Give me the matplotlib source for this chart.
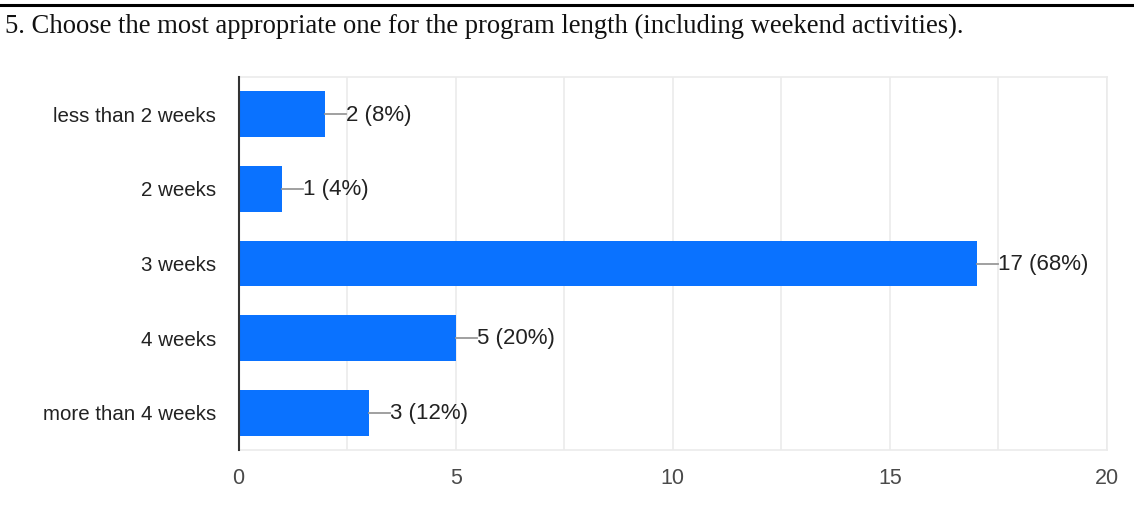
import matplotlib
matplotlib.use("Agg")
import matplotlib.pyplot as plt
from matplotlib.lines import Line2D

title = "5. Choose the most appropriate one for the program length (including weekend activities)."
categories = ["less than 2 weeks", "2 weeks", "3 weeks", "4 weeks", "more than 4 weeks"]
counts = [2, 1, 17, 5, 3]
percents = [8, 4, 68, 20, 12]
xticks = [0, 5, 10, 15, 20]

W, H, DPI = 1134, 518, 100
fig = plt.figure(figsize=(W / DPI, H / DPI), dpi=DPI)
fig.patch.set_facecolor("white")

# top rule
fig.add_artist(Line2D([0, 1], [1 - 5 / H, 1 - 5 / H], color="black", lw=2.2,
                      transform=fig.transFigure))
fig.text(5 / W, 1 - 26 / H, title, fontsize=19.2, family="Liberation Serif",
         color="#111111", va="center", ha="left")

left, right, top, bottom = 238.5, 1107, 77, 450
ax = fig.add_axes([left / W, 1 - bottom / H, (right - left) / W, (bottom - top) / H])

y = list(range(len(categories)))
ax.barh(y, counts, height=0.615, color="#0A72FF", zorder=3)
ax.set_ylim(len(categories) - 0.5, -0.5)
ax.set_xlim(0, 20)

ax.set_xticks(xticks)
ax.set_xticks([2.5, 7.5, 12.5, 17.5], minor=True)
ax.grid(True, axis="x", which="both", color="#ebebeb", lw=1.2, zorder=0)
ax.tick_params(axis="x", which="both", length=0, pad=13, labelsize=15.5, labelcolor="#4a4a4a")
ax.set_yticks(y)
ax.set_yticklabels(categories)
ax.tick_params(axis="y", length=0, pad=16, labelsize=14.8, labelcolor="#222222")
for lab in ax.get_xticklabels() + ax.get_yticklabels():
    lab.set_family("Liberation Sans")

for s in ["top", "right", "bottom"]:
    ax.spines[s].set_color("#ebebeb")
    ax.spines[s].set_linewidth(1.2)
ax.spines["left"].set_color("#333333")
ax.spines["left"].set_linewidth(1.5)
ax.spines["left"].set_zorder(4)

px = 20.0 / (right - left)
for yi, c, p in zip(y, counts, percents):
    ax.plot([c, c + 21 * px], [yi, yi], color="#999999", lw=1.3, zorder=4, clip_on=False)
    ax.text(c + 21 * px, yi + 0.01, f"{c} ({p}%)", va="center", ha="left", fontsize=16,
            color="#222222", family="Liberation Sans", zorder=5)

fig.savefig("out.png", dpi=DPI)
